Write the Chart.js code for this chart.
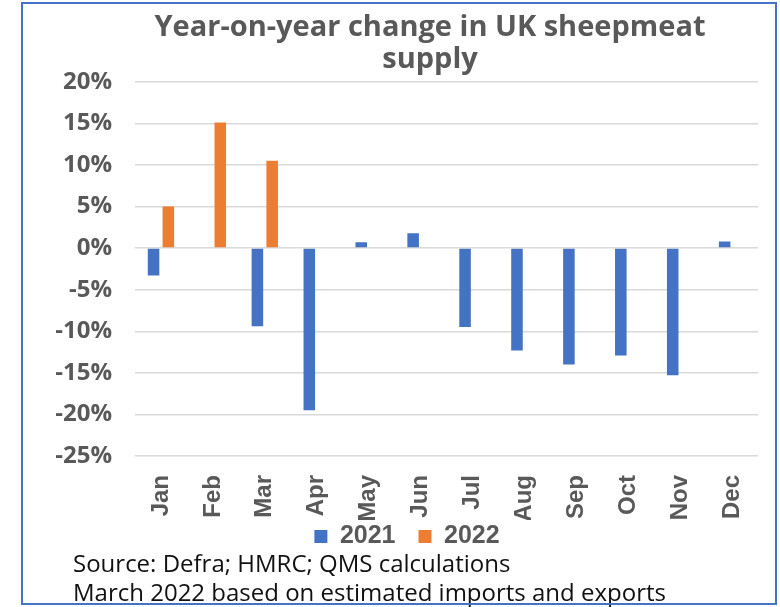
<!DOCTYPE html>
<html>
<head>
<meta charset="utf-8">
<script src="https://cdn.jsdelivr.net/npm/chart.js@4"></script>
<style>
  html, body { margin: 0; padding: 0; background: #fff; overflow: hidden; }
  #wrap { position: relative; width: 780px; height: 607px; }
  #chart { position: absolute; left: 0; top: 0; }
  #frame { position: absolute; left: 21px; top: 2px; width: 756px; height: 603px;
           box-sizing: border-box; border: 2px solid #4472C4; pointer-events: none; }
  .note { position: absolute; left: 73px; font-family: "Open Sans", sans-serif;
          font-size: 24px; color: #111; white-space: nowrap; line-height: 29px; }
</style>
</head>
<body>
<div id="wrap">
  <canvas id="chart" width="780" height="580"></canvas>
  <div class="note" style="top:548px">Source: Defra; HMRC; QMS calculations</div>
  <div class="note" style="top:577px">March 2022 based on estimated imports and exports</div>
  <div id="frame"></div>
</div>
<script>
const months = ['Jan', 'Feb', 'Mar', 'Apr', 'May', 'Jun', 'Jul', 'Aug', 'Sep', 'Oct', 'Nov', 'Dec'];
const series2021 = [-3.3, null, -9.4, -19.5, 0.7, 1.8, -9.5, -12.3, -14.0, -12.9, -15.3, 0.8];
const series2022 = [5.0, 15.1, 10.5, null, null, null, null, null, null, null, null, null];
const gray = '#595959';
const sans = "'Liberation Sans', Arial, sans-serif";
const round = "'Open Sans', sans-serif";

// move title and legend to where the original has them
const placeBlocks = {
    id: 'placeBlocks',
    afterLayout(chart) {
        const t = chart.titleBlock;
        if (t) { t.left = 430 - 370; t.right = 430 + 370; t.width = 740; }
        const l = chart.legend;
        if (l) {
            const h = l.bottom - l.top;
            l.left = 407 - 300; l.right = 407 + 300; l.width = 600;
            l.top = 501; l.bottom = 501 + h;
        }
    }
};

const ctx = document.getElementById('chart').getContext('2d');
new Chart(ctx, {
    type: 'bar',
    data: {
        labels: months,
        datasets: [
            { label: '2021', data: series2021, backgroundColor: '#4472C4' },
            { label: '2022', data: series2022, backgroundColor: '#ED7D31' }
        ]
    },
    options: {
        responsive: false,
        animation: false,
        datasets: { bar: { categoryPercentage: 0.57, barPercentage: 0.78 } },
        layout: { padding: { left: 22, right: 22, top: 0, bottom: 2 } },
        plugins: {
            title: {
                display: true,
                text: ['Year-on-year change in UK sheepmeat', 'supply'],
                color: gray,
                font: { family: round, size: 29, weight: 'bold', lineHeight: 1.1 },
                padding: { top: 12, bottom: 6 }
            },
            legend: {
                position: 'bottom',
                labels: {
                    color: gray,
                    boxWidth: 13,
                    boxHeight: 13,
                    padding: 23,
                    font: { family: sans, size: 25, weight: 'bold' }
                }
            },
            tooltip: { enabled: false }
        },
        scales: {
            x: {
                afterFit(scale) { scale.height = 64; },
                grid: { display: false },
                border: { display: false },
                ticks: {
                    color: gray,
                    autoSkip: false,
                    minRotation: 90,
                    maxRotation: 90,
                    padding: 11,
                    font: { family: sans, size: 24, weight: 'bold' }
                }
            },
            y: {
                min: -25,
                max: 20,
                afterFit(scale) { scale.width = 113; },
                grid: { color: '#D9D9D9', lineWidth: 1.5, drawTicks: false },
                border: { display: false },
                ticks: {
                    stepSize: 5,
                    color: gray,
                    padding: 23,
                    font: { family: round, size: 24, weight: 'bold' },
                    callback: v => v + '%'
                }
            }
        }
    },
    plugins: [placeBlocks]
});
</script>
</body>
</html>
